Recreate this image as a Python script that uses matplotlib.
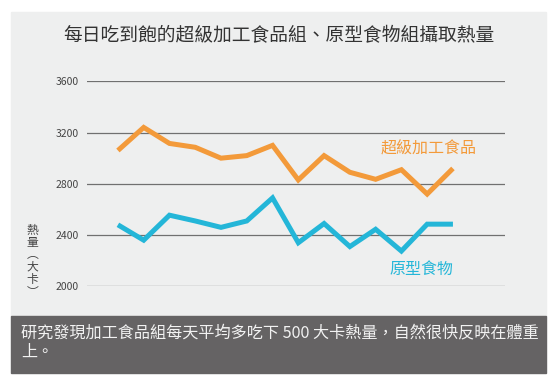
import matplotlib
matplotlib.use("Agg")
import matplotlib.pyplot as plt
from matplotlib.patches import Rectangle

plt.rcParams['font.family'] = ['Noto Sans CJK TC', 'DejaVu Sans']

# data (kcal per day)
days = list(range(14))
ultra_processed = [3060, 3240, 3115, 3085, 3000, 3020, 3100, 2830, 3020, 2890, 2835, 2910, 2720, 2920]
unprocessed = [2480, 2360, 2555, 2510, 2460, 2510, 2690, 2340, 2490, 2310, 2445, 2275, 2485, 2485]
yticks = [2000, 2400, 2800, 3200, 3600]

title = "每日吃到飽的超級加工食品組、原型食物組攝取熱量"
ylabel = "熱量︵大卡︶"
caption = "研究發現加工食品組每天平均多吃下 500 大卡熱量，自然很快反映在體重\n上。"

orange = "#f39a3a"
blue = "#24b6d8"
W, H = 554, 379

fig = plt.figure(figsize=(W / 100, H / 100), dpi=100)
fig.patch.set_facecolor("white")

# background panel + dark caption box
fig.patches.append(Rectangle((11 / W, 1 - 316 / H), 535 / W, 304 / H,
                             transform=fig.transFigure, color="#eeefef", zorder=-10))
fig.patches.append(Rectangle((11 / W, 1 - 373 / H), 535 / W, 57 / H,
                             transform=fig.transFigure, color="#656364", zorder=-10))

ax = fig.add_axes([87 / W, 1 - 286.3 / H, 418 / W, 205 / H])
ax.set_zorder(1)
ax.set_facecolor("none")
ax.plot(days, ultra_processed, color=orange, lw=3.6,
        solid_joinstyle="miter", solid_capstyle="butt", zorder=3)
ax.plot(days, unprocessed, color=blue, lw=3.6,
        solid_joinstyle="miter", solid_capstyle="butt", zorder=3)

ax.set_xlim(-1.2, 15.02)
ax.set_ylim(2000, 3600)
ax.set_yticks(yticks)
ax.set_xticks([])
ax.grid(axis="y", color="#707070", lw=0.9)
for s in ax.spines.values():
    s.set_visible(False)
ax.tick_params(axis="y", length=0, pad=6, labelsize=7.5, labelcolor="#444444")

ax.text(12.05, 3072, "超級加工食品", color=orange, fontsize=11.5, ha="center", va="center")
ax.text(11.76, 2130, "原型食物", color=blue, fontsize=11.5, ha="center", va="center")

fig.text(32.5 / W, 1 - 261 / H, "\n".join(ylabel), fontsize=8.5, color="#444444",
         ha="center", va="center", linespacing=0.95)

fig.text(278.5 / W, 1 - 35.5 / H, title, fontsize=13.5, color="#333333",
         ha="center", va="center", fontweight="medium")

fig.text(21 / W, 1 - 342.5 / H, caption, fontsize=11.6, color="#f2f2f2",
         ha="left", va="center", linespacing=1.15)

fig.savefig("out.png", dpi=100)
